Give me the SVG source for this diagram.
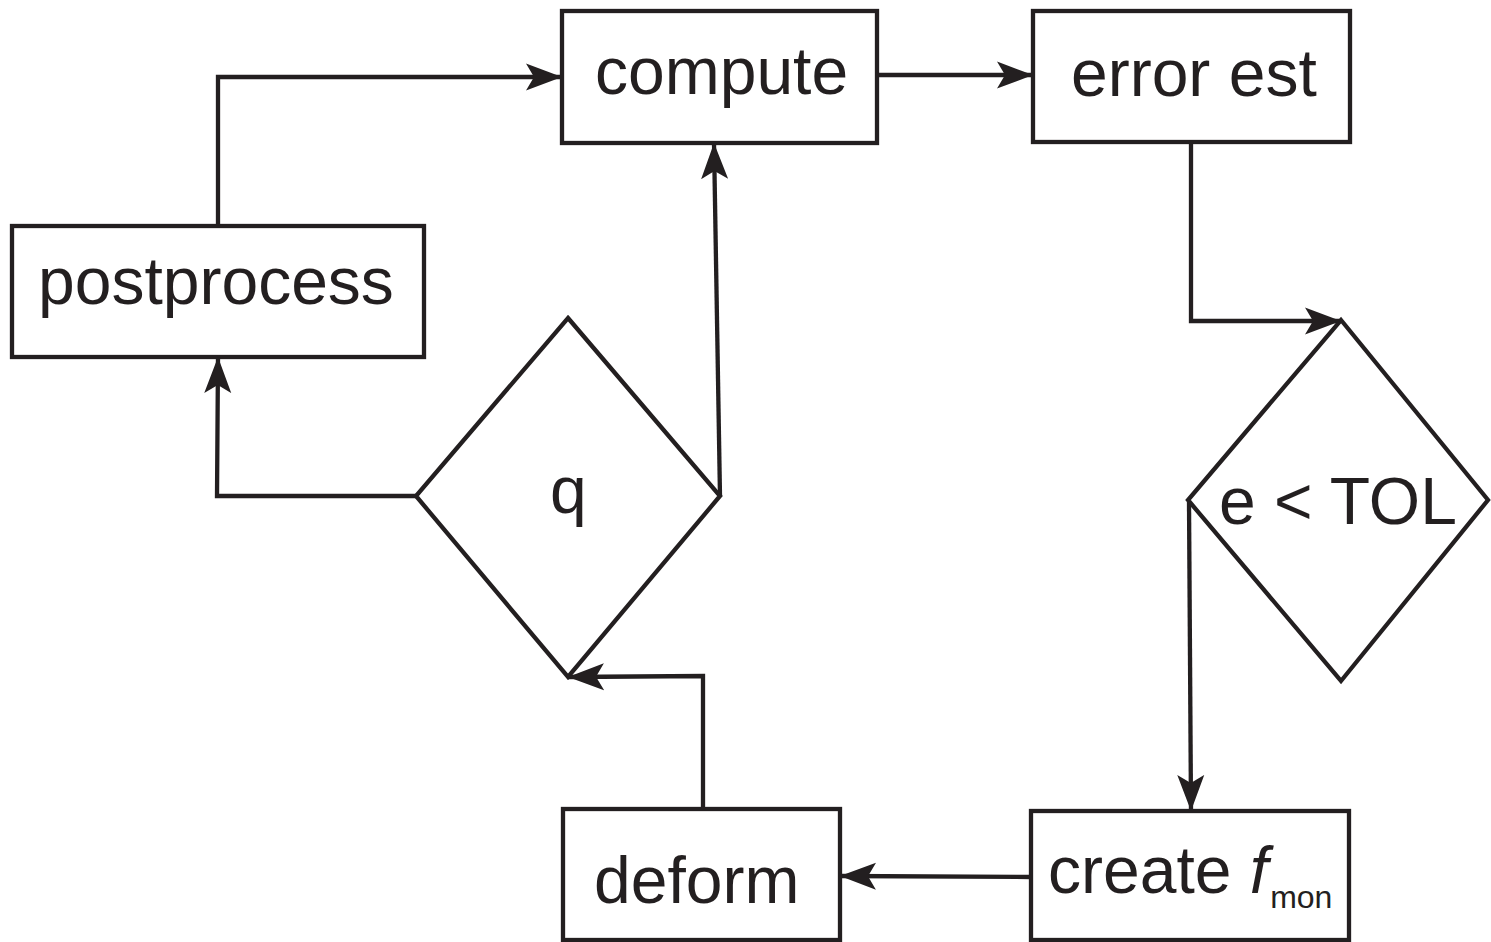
<svg xmlns="http://www.w3.org/2000/svg" width="1491" height="942" viewBox="0 0 1491 942">
<defs>
<marker id="ah" markerUnits="userSpaceOnUse" markerWidth="40" markerHeight="30" viewBox="0 0 40 30" refX="36" refY="15" orient="auto">
<path d="M0,1.5 L36,15 L0,28.5 L8,15 Z" fill="#231f20"/>
</marker>
<style>
.box{fill:#fff;stroke:#231f20;stroke-width:4.3}
.t{font-family:"Liberation Sans",Arial,sans-serif;font-size:66px;fill:#231f20}
.c{fill:none;stroke:#231f20;stroke-width:4.3;marker-end:url(#ah)}
</style>
</defs>
<rect width="1491" height="942" fill="#fff"/>
<g id="compute"><rect class="box" x="562" y="11" width="315" height="132"/><text class="t" x="595" y="94">compute</text></g>
<g id="error-est"><rect class="box" x="1033" y="11" width="317" height="131"/><text class="t" x="1071" y="96">error est</text></g>
<g id="postprocess"><rect class="box" x="12" y="226" width="412" height="131"/><text class="t" x="38" y="304">postprocess</text></g>
<g id="q"><path class="box" d="M568,318 L720,496 L568,677 L416,496 Z"/><text class="t" x="550" y="513">q</text></g>
<g id="e-tol"><path class="box" d="M1341,320 L1488,500 L1341,681 L1188,500 Z"/><text class="t" x="1219" y="524">e &lt; TOL</text></g>
<g id="deform"><rect class="box" x="563" y="809" width="277" height="131"/><text class="t" x="594" y="903">deform</text></g>
<g id="create"><rect class="box" x="1031" y="811" width="318" height="129"/><text class="t" x="1048" y="893">create <tspan font-style="italic">f</tspan><tspan font-size="32" dx="2" dy="15">mon</tspan></text></g>
<g id="connectors">
<path class="c" d="M218,226 L218,77 L562,77"/>
<path class="c" d="M877,75 L1033,75"/>
<path class="c" d="M1191,143 L1191,321 L1341,321"/>
<path class="c" d="M1189,502 L1191,811"/>
<path class="c" d="M1031,877 L840,876"/>
<path class="c" d="M703,809 L703,676 L568,677"/>
<path class="c" d="M416,496 L217,496 L218,357"/>
<path class="c" d="M720,496 L714,143"/>
</g>
</svg>
